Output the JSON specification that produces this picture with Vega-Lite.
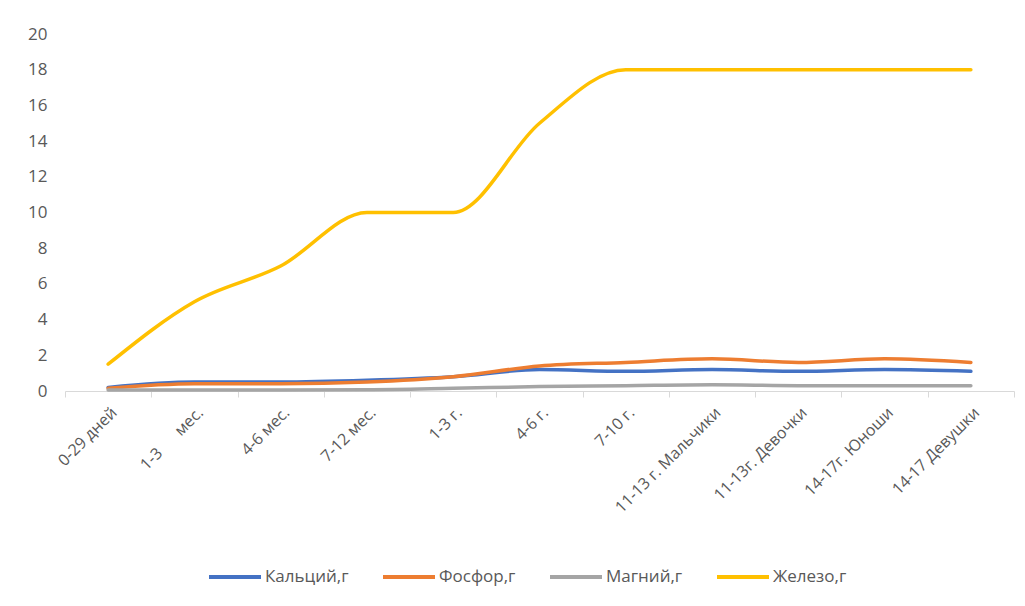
{
  "$schema": "https://vega.github.io/schema/vega-lite/v6.json",
  "width": 949,
  "height": 357,
  "autosize": {"type": "none"},
  "padding": {"left": 65, "top": 34, "right": 11, "bottom": 215},
  "background": "white",
  "config": {
    "view": {"stroke": null},
    "font": "Open Sans"
  },
  "data": {
    "values": [
      {"age": "0-29 дней", "n": "Кальций,г", "v": 0.2},
      {"age": "1-3     мес.", "n": "Кальций,г", "v": 0.5},
      {"age": "4-6 мес.", "n": "Кальций,г", "v": 0.5},
      {"age": "7-12 мес.", "n": "Кальций,г", "v": 0.6},
      {"age": "1-3 г.", "n": "Кальций,г", "v": 0.8},
      {"age": "4-6 г.", "n": "Кальций,г", "v": 1.2},
      {"age": "7-10 г.", "n": "Кальций,г", "v": 1.1},
      {"age": "11-13 г. Мальчики", "n": "Кальций,г", "v": 1.2},
      {"age": "11-13г. Девочки", "n": "Кальций,г", "v": 1.1},
      {"age": "14-17г. Юноши", "n": "Кальций,г", "v": 1.2},
      {"age": "14-17 Девушки", "n": "Кальций,г", "v": 1.1},
      {"age": "0-29 дней", "n": "Фосфор,г", "v": 0.15},
      {"age": "1-3     мес.", "n": "Фосфор,г", "v": 0.4},
      {"age": "4-6 мес.", "n": "Фосфор,г", "v": 0.4},
      {"age": "7-12 мес.", "n": "Фосфор,г", "v": 0.5},
      {"age": "1-3 г.", "n": "Фосфор,г", "v": 0.8},
      {"age": "4-6 г.", "n": "Фосфор,г", "v": 1.4},
      {"age": "7-10 г.", "n": "Фосфор,г", "v": 1.6},
      {"age": "11-13 г. Мальчики", "n": "Фосфор,г", "v": 1.8},
      {"age": "11-13г. Девочки", "n": "Фосфор,г", "v": 1.6},
      {"age": "14-17г. Юноши", "n": "Фосфор,г", "v": 1.8},
      {"age": "14-17 Девушки", "n": "Фосфор,г", "v": 1.6},
      {"age": "0-29 дней", "n": "Магний,г", "v": 0.05},
      {"age": "1-3     мес.", "n": "Магний,г", "v": 0.05},
      {"age": "4-6 мес.", "n": "Магний,г", "v": 0.06},
      {"age": "7-12 мес.", "n": "Магний,г", "v": 0.07},
      {"age": "1-3 г.", "n": "Магний,г", "v": 0.15},
      {"age": "4-6 г.", "n": "Магний,г", "v": 0.25},
      {"age": "7-10 г.", "n": "Магний,г", "v": 0.3},
      {"age": "11-13 г. Мальчики", "n": "Магний,г", "v": 0.35},
      {"age": "11-13г. Девочки", "n": "Магний,г", "v": 0.3},
      {"age": "14-17г. Юноши", "n": "Магний,г", "v": 0.3},
      {"age": "14-17 Девушки", "n": "Магний,г", "v": 0.3},
      {"age": "0-29 дней", "n": "Железо,г", "v": 1.5},
      {"age": "1-3     мес.", "n": "Железо,г", "v": 5},
      {"age": "4-6 мес.", "n": "Железо,г", "v": 7},
      {"age": "7-12 мес.", "n": "Железо,г", "v": 10},
      {"age": "1-3 г.", "n": "Железо,г", "v": 10},
      {"age": "4-6 г.", "n": "Железо,г", "v": 15},
      {"age": "7-10 г.", "n": "Железо,г", "v": 18},
      {"age": "11-13 г. Мальчики", "n": "Железо,г", "v": 18},
      {"age": "11-13г. Девочки", "n": "Железо,г", "v": 18},
      {"age": "14-17г. Юноши", "n": "Железо,г", "v": 18},
      {"age": "14-17 Девушки", "n": "Железо,г", "v": 18}
    ]
  },
  "mark": {"type": "line", "interpolate": "monotone", "strokeWidth": 3.5, "strokeCap": "round"},
  "encoding": {
    "x": {
      "field": "age",
      "type": "nominal",
      "sort": null,
      "bandPosition": 0.5,
      "scale": {"type": "band", "paddingInner": 0, "paddingOuter": 0},
      "axis": {
        "title": null,
        "labelAngle": -45,
        "labelAlign": "right",
        "labelBaseline": "top",
        "labelFontSize": 16,
        "labelColor": "#595959",
        "labelPadding": 7,
        "domainColor": "#d9d9d9",
        "tickColor": "#d9d9d9",
        "tickSize": 6,
        "tickBand": "extent",
        "labelExpr": "replace(datum.label, '     ', '\u00a0\u00a0\u00a0\u00a0\u00a0\u00a0')"
      }
    },
    "y": {
      "field": "v",
      "type": "quantitative",
      "scale": {"domain": [0, 20]},
      "axis": {
        "title": null,
        "values": [0, 2, 4, 6, 8, 10, 12, 14, 16, 18, 20],
        "grid": false,
        "domain": false,
        "ticks": false,
        "labelPadding": 18,
        "labelFontSize": 17,
        "labelColor": "#595959"
      }
    },
    "color": {
      "field": "n",
      "type": "nominal",
      "scale": {
        "domain": ["Кальций,г", "Фосфор,г", "Магний,г", "Железо,г"],
        "range": ["#4472C4", "#ED7D31", "#A5A5A5", "#FFC000"]
      },
      "legend": {
        "title": null,
        "orient": "none",
        "direction": "horizontal",
        "legendX": 142,
        "legendY": 515,
        "symbolType": "stroke",
        "symbolSize": 2704,
        "symbolStrokeWidth": 4,
        "labelFontSize": 17,
        "labelColor": "#595959",
        "columnPadding": 26,
        "labelOffset": 2
      }
    }
  }
}
